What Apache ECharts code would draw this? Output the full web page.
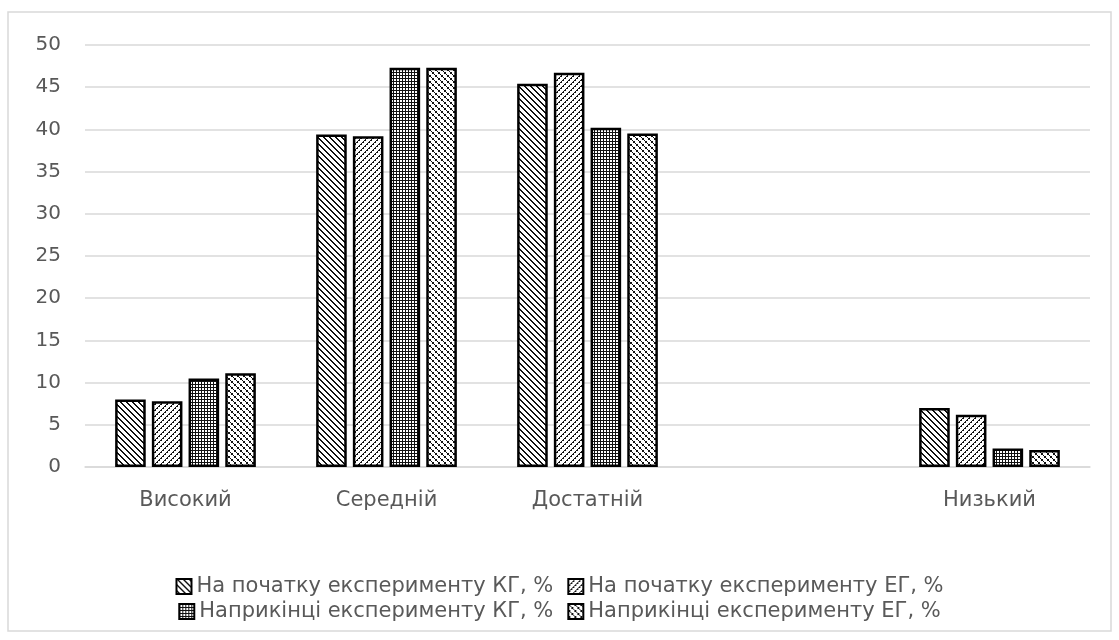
<!DOCTYPE html>
<html>
<head>
<meta charset="utf-8">
<script src="https://cdn.jsdelivr.net/npm/echarts@6/dist/echarts.min.js"></script>
<style>
  html, body { margin: 0; padding: 0; background: #fff; }
  #chart { width: 1119px; height: 640px; }
</style>
</head>
<body>
<div id="chart"></div>
<script>
const categories = ['Високий', 'Середній', 'Достатній', '', 'Низький']
const seriesNames = [
  'На початку експерименту КГ, %',
  'На початку експерименту ЕГ, %',
  'Наприкінці експерименту КГ, %',
  'Наприкінці експерименту ЕГ, %',
]
const startKG = [8.0, 39.4, 45.4, null, 7.0]
const startEG = [7.8, 39.2, 46.7, null, 6.2]
const endKG = [10.5, 47.3, 40.2, null, 2.2]
const endEG = [11.1, 47.3, 39.5, null, 2.0]
const yTicks = [0, 50, 5]

// hatch fills drawn on small canvases (Excel-like patterns)
function makePattern(kind) {
  const s = kind === 2 ? 3 : 6
  const c = document.createElement('canvas')
  c.width = s
  c.height = s
  const ctx = c.getContext('2d')
  ctx.fillStyle = '#fff'
  ctx.fillRect(0, 0, s, s)
  ctx.fillStyle = '#111'
  for (let y = 0; y < s; y++) {
    for (let x = 0; x < s; x++) {
      let on = false
      if (kind === 0) on = ((x - y + s) % 6) < 2
      else if (kind === 1) on = ((x + y) % 6) === 0 || ((x + y) % 6 === 1 && y % 2 === 0)
      else if (kind === 2) on = x === 0 || y === 0
      else if (kind === 3) on = (x < 2 && y < 2) || (x >= 3 && x < 5 && y >= 3 && y < 5) || (x === 2 && y === 2) || (x === 5 && y === 5)
      if (on) ctx.fillRect(x, y, 1, 1)
    }
  }
  return { image: c, repeat: 'repeat' }
}

const data = [startKG, startEG, endKG, endEG]
const textColor = '#595959'
const font = "'DejaVu Sans', sans-serif"
const legendBase = {
  left: 'center',
  icon: 'rect',
  itemWidth: 15,
  itemHeight: 15,
  itemGap: 14,
  textStyle: { color: textColor, fontSize: 21, fontFamily: font, padding: [0, 0, 0, 0] },
}

const chart = echarts.init(document.getElementById('chart'), null, { renderer: 'canvas' })
chart.setOption({
  animation: false,
  backgroundColor: '#fff',
  graphic: [{
    type: 'rect',
    shape: { x: 8, y: 12, width: 1103, height: 619 },
    style: { fill: 'none', stroke: '#d9d9d9', lineWidth: 1.5 },
    silent: true,
  }],
  legend: [
    Object.assign({ data: seriesNames.slice(0, 2), top: 571 }, legendBase),
    Object.assign({ data: seriesNames.slice(2, 4), top: 596 }, legendBase),
  ],
  grid: { left: 85, right: 29, top: 45, bottom: 173, containLabel: false },
  xAxis: {
    type: 'category',
    data: categories,
    axisLine: { lineStyle: { color: '#d9d9d9', width: 1.5 } },
    axisTick: { show: false },
    axisLabel: { color: textColor, fontSize: 21, fontFamily: font, margin: 23 },
  },
  yAxis: {
    type: 'value',
    min: yTicks[0],
    max: yTicks[1],
    interval: yTicks[2],
    axisLine: { show: false },
    axisTick: { show: false },
    splitLine: { lineStyle: { color: '#d9d9d9', width: 1.5 } },
    axisLabel: { color: textColor, fontSize: 20, fontFamily: font, margin: 24 },
  },
  series: seriesNames.map((name, i) => ({
    name,
    type: 'bar',
    data: data[i],
    barGap: '20%',
    barCategoryGap: '30%',
    itemStyle: {
      color: makePattern(i),
      borderColor: '#000',
      borderWidth: 2.5,
    },
  })),
})
</script>
</body>
</html>
